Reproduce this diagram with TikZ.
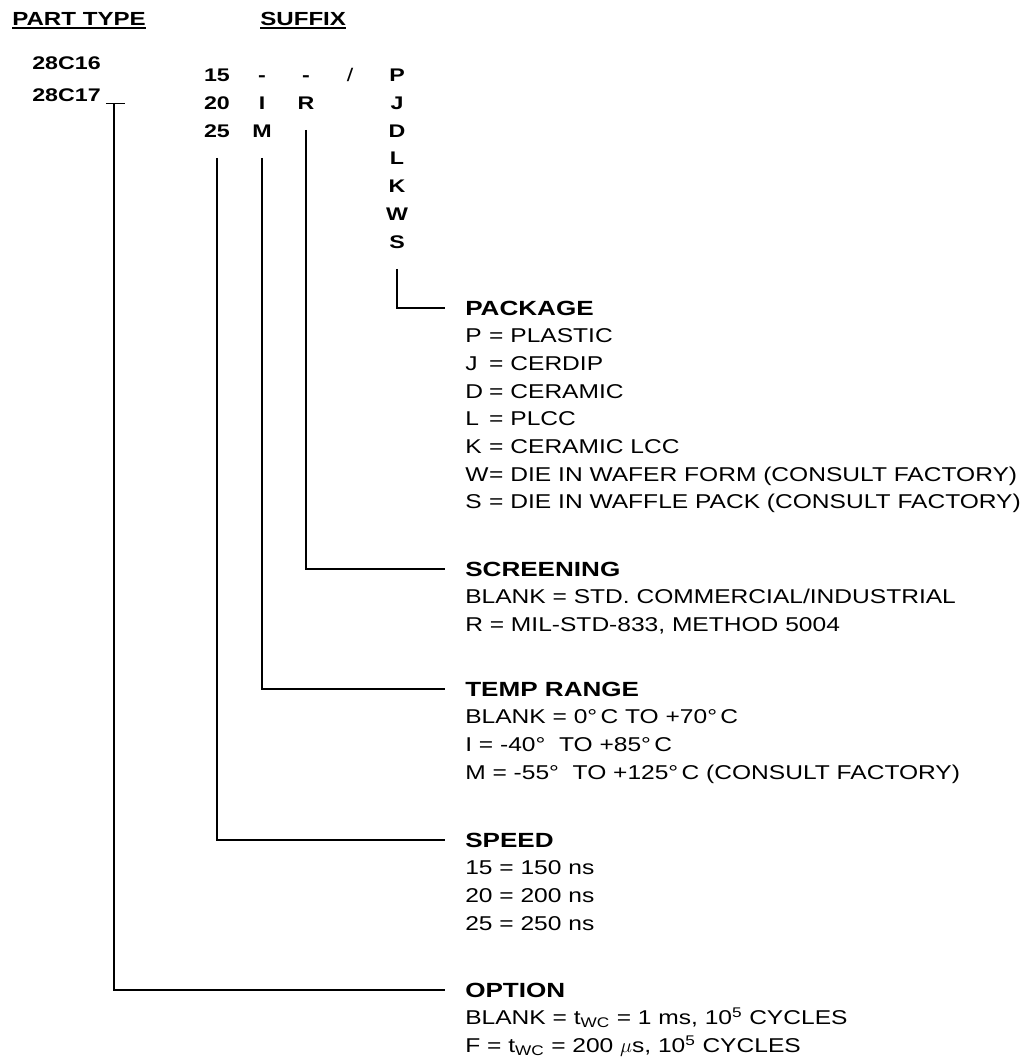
\documentclass[tikz,border=0pt]{standalone}
\usepackage{fontspec}
\setmainfont{Liberation Sans}[FakeStretch=1.27]
\newfontfamily\bodyfont{Liberation Sans}[FakeStretch=1.23]
\usepackage{tikz}
\usetikzlibrary{calc,positioning}
\tikzset{
  hdr/.style  ={font=\fontsize{13.5}{16}\selectfont\bfseries, inner sep=0pt, anchor=base west},
  code/.style ={font=\fontsize{13}{16}\selectfont\bfseries, inner sep=0pt, anchor=base},
  part/.style ={code, anchor=base west},
  head/.style ={font=\fontsize{14.6}{17}\selectfont\bfseries, inner sep=0pt, anchor=west},
  descr/.style={font=\bodyfont\fontsize{14.2}{19.7}\selectfont, inner sep=0pt,
                anchor=north west, align=left},
  lead/.style ={line width=1.3pt, black},
  ul/.style   ={line width=1.4pt, black},
}
\newcommand{\ky}[1]{\makebox[1.2em][l]{#1}}

\begin{document}
\begin{tikzpicture}[x=0.025cm, y=-0.025cm]
  \useasboundingbox (0,0) rectangle (1028,1061);

  % ---- column headers ------------------------------------------------------
  \node[hdr] (ptype) at (12,25)  {PART TYPE};
  \node[hdr] (sfx)   at (260,25) {SUFFIX};
  \draw[ul] ([yshift=-2.2pt]ptype.base west) -- ([yshift=-2.2pt]ptype.base east);
  \draw[ul] ([yshift=-2.2pt]sfx.base west)   -- ([yshift=-2.2pt]sfx.base east);

  % ---- part numbers and suffix letters -------------------------------------
  \node[part] (p16) at (32,69.5)  {28C16};
  \node[part] (p17) at (32,101.5) {28C17};

  \foreach \t [count=\i] in {15,20,25}
    \node[code] (s\t) at (217,{53.5+28*\i}) {\t};
  \node[code] (tdash) at (262,81.5)  {-};
  \node[code] (tI)    at (262,109.5) {I};
  \node[code] (tM)    at (262,137.5) {M};
  \node[code] (rdash) at (306,81.5)  {-};
  \node[code] (rR)    at (306,109.5) {R};
  \node[code, font=\fontsize{13}{16}\selectfont] (slash) at (350,81.5) {/};
  \foreach \c [count=\i] in {P,J,D,L,K,W,S}
    \node[code] (k\c) at (397,{53.7+27.8*\i}) {\c};

  % ---- field headings ------------------------------------------------------
  \node[head] (hpack)   at (465,308) {PACKAGE};
  \node[head] (hscreen) at (465,569) {SCREENING};
  \node[head] (htemp)   at (465,689) {TEMP RANGE};
  \node[head] (hspeed)  at (465,840) {SPEED};
  \node[head] (hopt)    at (465,990) {OPTION};

  \node[descr] (dpack) at ([yshift=-10.7pt]hpack.west)
    {\strut\ky{P}= PLASTIC\\
     \ky{J}= CERDIP\\
     \ky{D}= CERAMIC\\
     \ky{L}= PLCC\\
     \ky{K}= CERAMIC LCC\\
     \ky{W}= DIE IN WAFER FORM (CONSULT FACTORY)\\
     \ky{S}= DIE IN WAFFLE PACK (CONSULT FACTORY)};
  \node[descr] (dscreen) at ([yshift=-10.7pt]hscreen.west)
    {\strut BLANK = STD. COMMERCIAL/INDUSTRIAL\\
     R = MIL-STD-833, METHOD 5004};
  \node[descr] (dtemp) at ([yshift=-10.7pt]htemp.west)
    {\strut BLANK = 0°\,C TO +70°\,C\\
     I = -40°\ \ TO +85°\,C\\
     M = -55°\ \ TO +125°\,C (CONSULT FACTORY)};
  \node[descr] (dspeed) at ([yshift=-10.7pt]hspeed.west)
    {\strut 15 = 150 ns\\
     20 = 200 ns\\
     25 = 250 ns};
  \node[descr] (dopt) at ([yshift=-10.7pt]hopt.west)
    {\strut BLANK = t\textsubscript{WC} = 1 ms, 10\textsuperscript{5} CYCLES\\
     F = t\textsubscript{WC} = 200 $\mu$s, 10\textsuperscript{5} CYCLES};

  % ---- leaders from each code down to its heading --------------------------
  \draw[lead] ([yshift=-0.5cm]kS.south)  |- ([xshift=-0.5cm]hpack.west);
  \draw[lead] ([yshift=-0.5cm]rR.south)  |- ([xshift=-0.5cm]hscreen.west);
  \draw[lead] ([yshift=-0.5cm]tM.south)  |- ([xshift=-0.5cm]htemp.west);
  \draw[lead] ([yshift=-0.5cm]s25.south) |- ([xshift=-0.5cm]hspeed.west);
  \draw[lead] ([xshift=0.125cm,yshift=-0.05cm]p17.base east) -- ++(19,0);
  \draw[lead] ([xshift=0.325cm,yshift=-0.05cm]p17.base east) |- ([xshift=-0.5cm]hopt.west);
\end{tikzpicture}
\end{document}
